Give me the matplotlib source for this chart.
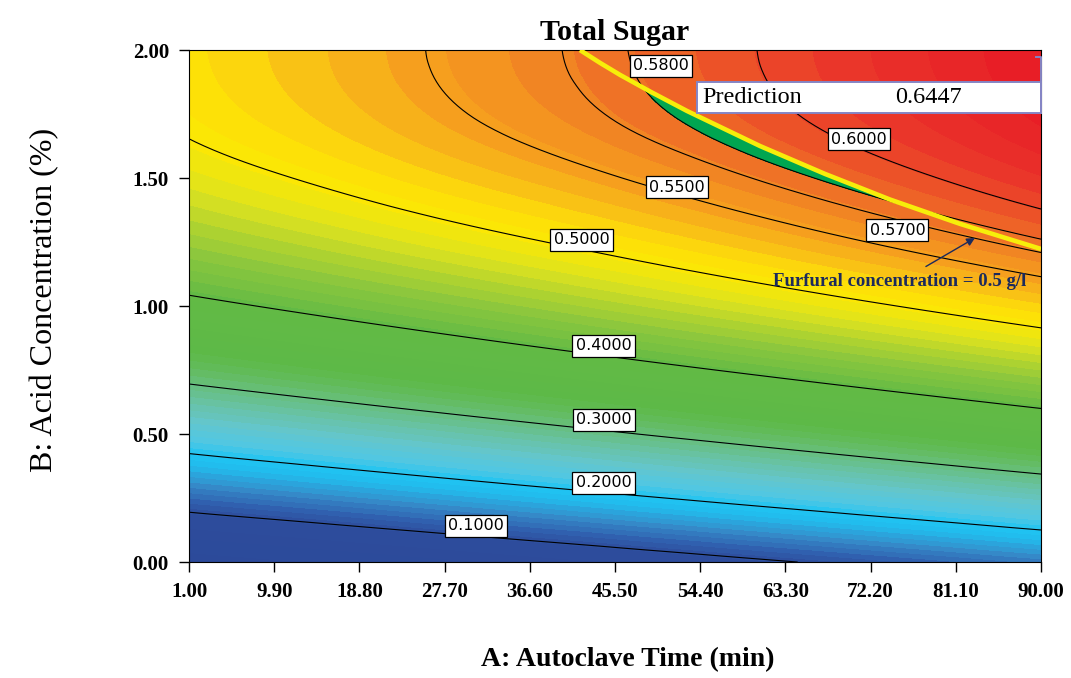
import numpy as np
import matplotlib
matplotlib.use("Agg")
import matplotlib.pyplot as plt
import matplotlib.tri as mtri
from matplotlib.colors import LinearSegmentedColormap
from matplotlib.patches import Polygon, Rectangle

plt.rcParams['font.family'] = 'serif'
plt.rcParams['font.serif'] = ['Liberation Serif', 'DejaVu Serif']

# A: autoclave time (min), B: acid concentration (%)
time_ticks = [1.00, 9.90, 18.80, 27.70, 36.60, 45.50, 54.40, 63.30, 72.20, 81.10, 90.00]
acid_ticks = [0.00, 0.50, 1.00, 1.50, 2.00]
acid_levels = [0.00, 0.25, 0.50, 0.75, 1.00, 1.25, 1.50, 1.75, 2.00]

# total sugar, one row per acid level, one column per time tick
sugar_grid = [
    [0.0050, 0.0183, 0.0316, 0.0449, 0.0582, 0.0715, 0.0848, 0.0981, 0.1114, 0.1247, 0.1381],
    [0.1256, 0.1389, 0.1522, 0.1655, 0.1788, 0.1921, 0.2054, 0.2187, 0.2320, 0.2453, 0.2587],
    [0.2299, 0.2432, 0.2565, 0.2698, 0.2831, 0.2964, 0.3097, 0.3230, 0.3363, 0.3496, 0.3630],
    [0.3178, 0.3311, 0.3444, 0.3577, 0.3710, 0.3843, 0.3976, 0.4109, 0.4242, 0.4375, 0.4509],
    [0.3895, 0.4028, 0.4161, 0.4294, 0.4427, 0.4560, 0.4693, 0.4826, 0.4959, 0.5092, 0.5226],
    [0.4448, 0.4581, 0.4714, 0.4847, 0.4976, 0.5105, 0.5237, 0.5371, 0.5506, 0.5642, 0.5779],
    [0.4839, 0.4972, 0.5105, 0.5238, 0.5363, 0.5489, 0.5619, 0.5754, 0.5891, 0.6030, 0.6170],
    [0.5066, 0.5199, 0.5332, 0.5465, 0.5590, 0.5716, 0.5846, 0.5981, 0.6118, 0.6257, 0.6397],
    [0.5130, 0.5263, 0.5396, 0.5529, 0.5654, 0.5780, 0.5910, 0.6045, 0.6182, 0.6321, 0.6461],
]

contour_levels = [0.1, 0.2, 0.3, 0.4, 0.5, 0.55, 0.57, 0.58, 0.6]
# where each contour label box sits (time, acid)
label_spots = [(31.0, 0.141), (44.3, 0.309), (44.3, 0.555), (44.3, 0.844), (42.0, 1.258),
               (52.0, 1.465), (75.0, 1.297), (50.3, 1.938), (71.0, 1.652)]

# furfural = 0.5 g/l boundary
furfural_time = [41.84, 43.93, 46.02, 49.16, 53.02, 60.65, 67.44, 74.23, 81.54, 90.00]
furfural_acid = [2.000, 1.950, 1.903, 1.838, 1.762, 1.625, 1.516, 1.416, 1.321, 1.223]

prediction = 0.6447
sugar_goal = 0.58

# colour stops keyed on sugar value
color_stops = [
    (0.005, '#2c4a9a'), (0.095, '#2d4c9c'), (0.120, '#305fae'), (0.150, '#358cca'),
    (0.180, '#22baec'), (0.200, '#20c4f2'), (0.220, '#50c7e4'), (0.250, '#64c6cc'),
    (0.280, '#68c2a0'), (0.310, '#66bd6e'), (0.340, '#5db947'), (0.400, '#62ba45'),
    (0.440, '#90c83c'), (0.480, '#dce21f'), (0.500, '#fbe904'), (0.515, '#fde008'),
    (0.530, '#f9c315'), (0.550, '#f6a01e'), (0.570, '#f08224'), (0.590, '#ed5a28'),
    (0.605, '#eb4529'), (0.620, '#e9302a'), (0.646, '#e81c26'),
]

z = np.array(sugar_grid)
zmin, zmax = z.min(), z.max()
pos = [(v - color_stops[0][0]) / (color_stops[-1][0] - color_stops[0][0]) for v, _ in color_stops]
pos[0], pos[-1] = 0.0, 1.0
cmap = LinearSegmentedColormap.from_list('de', list(zip(pos, [c for _, c in color_stops])))

# refine on a unit square so the cubic fit is not skewed by the axis ranges
tt, aa = np.meshgrid(time_ticks, acid_levels)
sx, sy = time_ticks[-1], acid_levels[-1]
tri_n = mtri.Triangulation(tt.ravel() / sx, aa.ravel() / sy)
fine_n, z_fine = mtri.UniformTriRefiner(tri_n).refine_field(z.ravel(), subdiv=4)
tri_fine = mtri.Triangulation(fine_n.x * sx, fine_n.y * sy, fine_n.triangles)

fig = plt.figure(figsize=(10.71, 6.78), dpi=100)
ax = fig.add_axes([0.1765, 0.171, 0.7955, 0.7552])

ax.tricontourf(tri_fine, z_fine, levels=np.linspace(zmin, zmax, 70), cmap=cmap,
               vmin=color_stops[0][0], vmax=color_stops[-1][0])

# feasible window: sugar above goal and under the furfural limit
clip = Polygon([(time_ticks[0], acid_levels[-1])] + list(zip(furfural_time, furfural_acid))
               + [(time_ticks[-1], acid_levels[0]), (time_ticks[0], acid_levels[0])],
               closed=True, transform=ax.transData, fc='none', ec='none')
ax.add_patch(clip)
green = ax.tricontourf(tri_fine, z_fine, levels=[sugar_goal, zmax + 0.01], colors=['#00a651'])
green.set_clip_path(clip)

ax.tricontour(tri_fine, z_fine, levels=contour_levels, colors='black', linewidths=0.8)
ax.plot(furfural_time, furfural_acid, color='#f7ee0a', lw=3.3, solid_capstyle='butt',
        solid_joinstyle='round', zorder=4)

for lev, (x, y) in zip(contour_levels, label_spots):
    ax.text(x, y, f'{lev:.4f}', family='DejaVu Sans', fontsize=11.5, ha='center', va='center',
            zorder=6, bbox=dict(boxstyle='square,pad=0.2', fc='white', ec='black', lw=0.9))

# prediction flag
ax.add_patch(Rectangle((0.596, 0.877), 0.404, 0.0605, transform=ax.transAxes,
                       fc='white', ec='#8585c5', lw=1.4, zorder=7, clip_on=False))
ax.plot([1.0, 1.0, 0.994], [0.877, 0.986, 0.986], transform=ax.transAxes,
        color='#8585c5', lw=1.4, zorder=7, clip_on=False)
ax.text(0.602, 0.907, 'Prediction', transform=ax.transAxes, fontsize=17.5,
        va='center', ha='left', zorder=8)
ax.text(0.829, 0.907, f'{prediction:.4f}', transform=ax.transAxes, fontsize=17.5,
        va='center', ha='left', zorder=8)

ax.annotate('Furfural concentration = 0.5 g/l', xy=(83.1, 1.266), xytext=(75.2, 1.094),
            ha='center', va='center', fontsize=13.5, fontweight='bold', color='#1c2a5c',
            arrowprops=dict(arrowstyle='-|>', color='#1c2a5c', lw=1.0, mutation_scale=12,
                            shrinkA=6, shrinkB=0), zorder=8)

ax.set_xlim(time_ticks[0], time_ticks[-1])
ax.set_ylim(acid_ticks[0], acid_ticks[-1])
ax.set_xticks(time_ticks)
ax.set_xticklabels([f'{t:.2f}' for t in time_ticks])
ax.set_yticks(acid_ticks)
ax.set_yticklabels([f'{t:.2f}' for t in acid_ticks])
ax.tick_params(direction='out', length=7.5, width=1, pad=7, labelsize=15)
for lab in ax.get_xticklabels() + ax.get_yticklabels():
    lab.set_fontweight('bold')

ax.set_title('Total Sugar', fontsize=21.5, fontweight='bold', pad=7)
ax.set_xlabel('A: Autoclave Time (min)', fontsize=20, fontweight='bold')
ax.set_ylabel('B: Acid Concentration (%)', fontsize=23)
ax.xaxis.set_label_coords(0.515, -0.191)
ax.xaxis.label.set_va('center')
ax.yaxis.set_label_coords(-0.170, 0.512)
ax.yaxis.label.set_va('center')

fig.savefig('out.png', dpi=100)
